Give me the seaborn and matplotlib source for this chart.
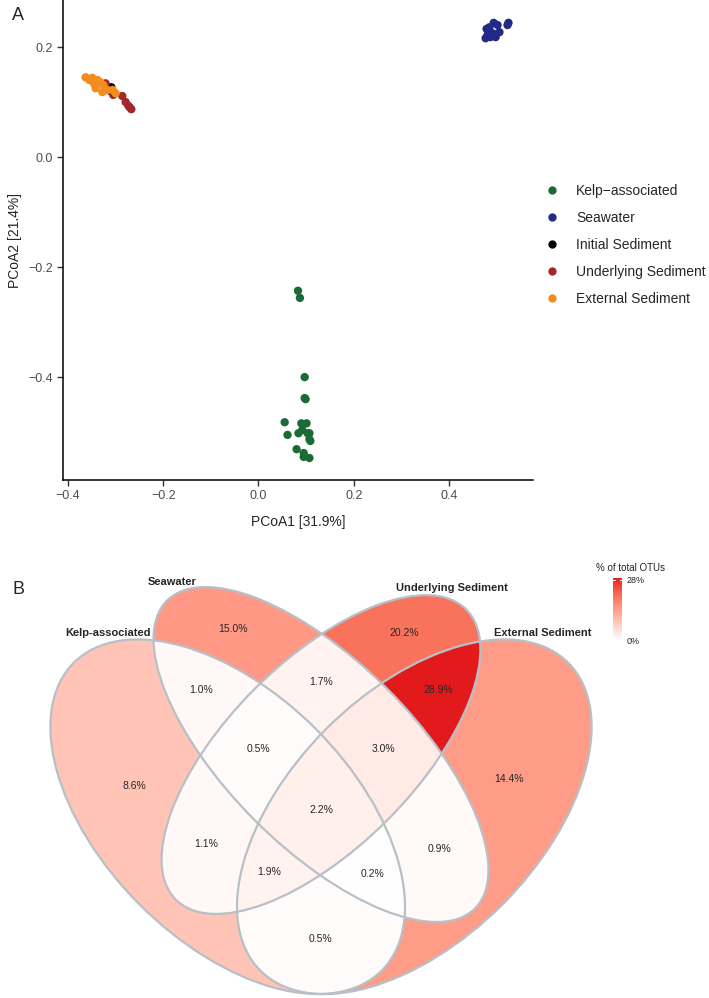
import numpy as np
import pandas as pd
import matplotlib
matplotlib.use("Agg")
import matplotlib.pyplot as plt
import seaborn as sns
from matplotlib.patches import Ellipse
from matplotlib.colors import ListedColormap, Normalize
from matplotlib.ticker import FuncFormatter, FixedLocator

# ---------------- data: PCoA ----------------
groups = ["Kelp\u2212associated", "Seawater", "Initial Sediment",
          "Underlying Sediment", "External Sediment"]
group_colors = ["#1a6b35", "#232a86", "#000000", "#a3282a", "#f28c1e"]

kelp_x = [0.083, 0.087, 0.097, 0.097, 0.099, 0.055, 0.090, 0.101, 0.061, 0.084,
          0.092, 0.103, 0.107, 0.109, 0.107, 0.080, 0.095, 0.095, 0.107]
kelp_y = [-0.243, -0.256, -0.400, -0.438, -0.440, -0.482, -0.484, -0.484, -0.505,
          -0.502, -0.496, -0.502, -0.502, -0.516, -0.513, -0.531, -0.538, -0.545, -0.547]
sea_x = [0.479, 0.477, 0.492, 0.494, 0.502, 0.506, 0.498, 0.487, 0.525, 0.523, 0.485, 0.481]
sea_y = [0.233, 0.216, 0.225, 0.244, 0.240, 0.227, 0.218, 0.218, 0.244, 0.240, 0.236, 0.222]
init_x = [-0.309]
init_y = [0.127]
under_x = [-0.321, -0.312, -0.305, -0.286, -0.279, -0.273, -0.267, -0.270]
under_y = [0.134, 0.120, 0.113, 0.111, 0.100, 0.093, 0.087, 0.090]
ext_x = [-0.363, -0.349, -0.338, -0.332, -0.342, -0.328, -0.317, -0.300, -0.326,
         -0.355, -0.345, -0.306]
ext_y = [0.145, 0.144, 0.140, 0.136, 0.125, 0.118, 0.122, 0.116, 0.131,
         0.140, 0.133, 0.122]

x_ticks = [-0.4, -0.2, 0.0, 0.2, 0.4]
y_ticks = [-0.4, -0.2, 0.0, 0.2]

# ---------------- data: Venn ----------------
venn_sets = ["Kelp-associated", "Seawater", "Underlying Sediment", "External Sediment"]
region_sets = [(0,), (1,), (2,), (3,), (0, 1), (1, 2), (2, 3), (0, 3), (0, 2), (1, 3),
               (0, 1, 2), (1, 2, 3), (0, 2, 3), (0, 1, 3), (0, 1, 2, 3)]
region_pct = [8.6, 15.0, 20.2, 14.4, 1.0, 1.7, 28.9, 0.5, 1.1, 0.9,
              0.5, 3.0, 1.9, 0.2, 2.2]
legend_ticks = [0, 28]

# ---------------- style ----------------
sns.set_theme(style="ticks")
plt.rcParams["font.family"] = ["Liberation Sans", "DejaVu Sans"]

W, H = 709, 998
fig = plt.figure(figsize=(W / 100, H / 100), dpi=100)

def px_ax(x0, y0, x1, y1):
    return fig.add_axes([x0 / W, 1 - y1 / H, (x1 - x0) / W, (y1 - y0) / H])

# ---------------- panel A ----------------
df = pd.concat([
    pd.DataFrame({"PCoA1": kelp_x, "PCoA2": kelp_y, "group": groups[0]}),
    pd.DataFrame({"PCoA1": sea_x, "PCoA2": sea_y, "group": groups[1]}),
    pd.DataFrame({"PCoA1": init_x, "PCoA2": init_y, "group": groups[2]}),
    pd.DataFrame({"PCoA1": under_x, "PCoA2": under_y, "group": groups[3]}),
    pd.DataFrame({"PCoA1": ext_x, "PCoA2": ext_y, "group": groups[4]}),
], ignore_index=True)

axA = px_ax(63, 0, 533, 480)
sns.scatterplot(data=df, x="PCoA1", y="PCoA2", hue="group", hue_order=groups,
                palette=group_colors, s=36, linewidth=0, ax=axA)
axA.set_xlim(-0.4105, 0.5765)
axA.set_ylim(-0.587, 0.2855)
axA.xaxis.set_major_locator(FixedLocator(x_ticks))
axA.yaxis.set_major_locator(FixedLocator(y_ticks))
fmt = FuncFormatter(lambda v, p: f"{v:.1f}".replace("-", "\u2212"))
axA.xaxis.set_major_formatter(fmt)
axA.yaxis.set_major_formatter(fmt)
sns.despine(ax=axA)
for s in ["left", "bottom"]:
    axA.spines[s].set_linewidth(1.1)
    axA.spines[s].set_color("black")
axA.tick_params(axis="both", length=4, width=1.0, color="#333333",
                labelsize=9, labelcolor="#4d4d4d", pad=3.5)
axA.set_xlabel("PCoA1 [31.9%]", fontsize=10, labelpad=9)
axA.set_ylabel("PCoA2 [21.4%]", fontsize=10, labelpad=4)
sns.move_legend(axA, "center left", bbox_to_anchor=(1.005, 0.49), frameon=False,
                title=None, fontsize=10, labelspacing=0.93, handletextpad=0.95,
                handlelength=1.6, borderaxespad=0)
fig.text(12 / W, 1 - 15 / H, "A", fontsize=13, ha="left", va="center")

# ---------------- panel B: Venn (4-set ellipses) ----------------
ell_cx = [0.35, 0.50, 0.50, 0.65]
ell_cy = [0.47, 0.57, 0.57, 0.47]
ell_a = [0.35, 0.35, 0.33, 0.35]
ell_b = [0.20, 0.15, 0.15, 0.20]
ell_ang = [135, 135, 45, 45]

cx_px, bottom_px, scale = 321, 994, 622.0
bx0, bx1, by0 = 0, W, 540
x_lo = 0.5 + (bx0 - cx_px) / scale
x_hi = 0.5 + (bx1 - cx_px) / scale
y_lo = 0.185 - (H - bottom_px) / scale
y_hi = 0.185 + (bottom_px - by0) / scale

axB = px_ax(bx0, by0, bx1, H)
axB.set_xlim(x_lo, x_hi)
axB.set_ylim(y_lo, y_hi)
axB.axis("off")

gx = np.linspace(0.0, 1.0, 1400)
gy = np.linspace(0.15, 0.90, 1050)
XX, YY = np.meshgrid(gx, gy)
code = np.zeros(XX.shape, dtype=int)
for i in range(4):
    t = np.deg2rad(ell_ang[i])
    dx, dy = XX - ell_cx[i], YY - ell_cy[i]
    xr = dx * np.cos(t) + dy * np.sin(t)
    yr = -dx * np.sin(t) + dy * np.cos(t)
    inside = (xr / ell_a[i]) ** 2 + (yr / ell_b[i]) ** 2 <= 1
    code |= inside.astype(int) << i

val = np.full(XX.shape, np.nan)
centroids = []
for sets, pct in zip(region_sets, region_pct):
    m = sum(1 << k for k in sets)
    mask = code == m
    val[mask] = pct
    centroids.append((XX[mask].mean(), YY[mask].mean()))


def srgb_to_lab(c):
    c = np.asarray(c, float)
    lin = np.where(c <= 0.04045, c / 12.92, ((c + 0.055) / 1.055) ** 2.4)
    M = np.array([[0.4124, 0.3576, 0.1805], [0.2126, 0.7152, 0.0722], [0.0193, 0.1192, 0.9505]])
    xyz = M @ lin / np.array([0.95047, 1.0, 1.08883])
    f = np.where(xyz > 0.008856, np.cbrt(xyz), 7.787 * xyz + 16 / 116)
    return np.array([116 * f[1] - 16, 500 * (f[0] - f[1]), 200 * (f[1] - f[2])])


def lab_to_srgb(lab):
    L, a, b = lab
    fy = (L + 16) / 116
    fx = fy + a / 500
    fz = fy - b / 200
    f = np.array([fx, fy, fz])
    xyz = np.where(f ** 3 > 0.008856, f ** 3, (f - 16 / 116) / 7.787) * np.array([0.95047, 1.0, 1.08883])
    Mi = np.array([[3.2406, -1.5372, -0.4986], [-0.9689, 1.8758, 0.0415], [0.0557, -0.2040, 1.0570]])
    lin = Mi @ xyz
    c = np.where(lin <= 0.0031308, 12.92 * lin, 1.055 * np.clip(lin, 0, None) ** (1 / 2.4) - 0.055)
    return np.clip(c, 0, 1)


lo = srgb_to_lab([1, 1, 1])
hi = srgb_to_lab(np.array([228, 26, 28]) / 255)
cmap = ListedColormap([lab_to_srgb(lo + (hi - lo) * t) for t in np.linspace(0, 1, 256)])
norm = Normalize(vmin=0, vmax=max(region_pct))

im = axB.imshow(np.ma.masked_invalid(val), extent=(gx[0], gx[-1], gy[0], gy[-1]),
                origin="lower", cmap=cmap, norm=norm, interpolation="nearest",
                aspect="auto", zorder=1)

for i in range(4):
    axB.add_patch(Ellipse((ell_cx[i], ell_cy[i]), 2 * ell_a[i], 2 * ell_b[i], angle=ell_ang[i],
                          facecolor="none", edgecolor="#b8c0c7", linewidth=1.6, zorder=2))

for (x, y), pct in zip(centroids, region_pct):
    axB.text(x, y, f"{pct:.1f}%", fontsize=7.5, ha="center", va="center", zorder=3)

set_label_pos = [(0.158, 0.765), (0.26, 0.847), (0.71, 0.838), (0.857, 0.765)]
for (x, y), name in zip(set_label_pos, venn_sets):
    axB.text(x, y, name, fontsize=8, fontweight="bold", ha="center", va="center", zorder=3)

fig.text(12 / W, 1 - 590 / H, "B", fontsize=13, ha="left", va="center")

# colorbar legend
cax = px_ax(613, 578, 622, 640)
cb = fig.colorbar(im, cax=cax)
cb.outline.set_visible(False)
cb.set_ticks(legend_ticks)
cb.set_ticklabels([f"{t}%" for t in legend_ticks])
cax.tick_params(length=0, labelsize=6.5, pad=3, labelcolor="#222222")
for t in legend_ticks:
    cax.plot([0, 0.2], [t, t], color="white", lw=0.8, transform=cax.get_yaxis_transform())
    cax.plot([0.8, 1], [t, t], color="white", lw=0.8, transform=cax.get_yaxis_transform())
fig.text(596 / W, 1 - 568 / H, "% of total OTUs", fontsize=7, ha="left", va="center")

fig.savefig("out.png", dpi=100)
